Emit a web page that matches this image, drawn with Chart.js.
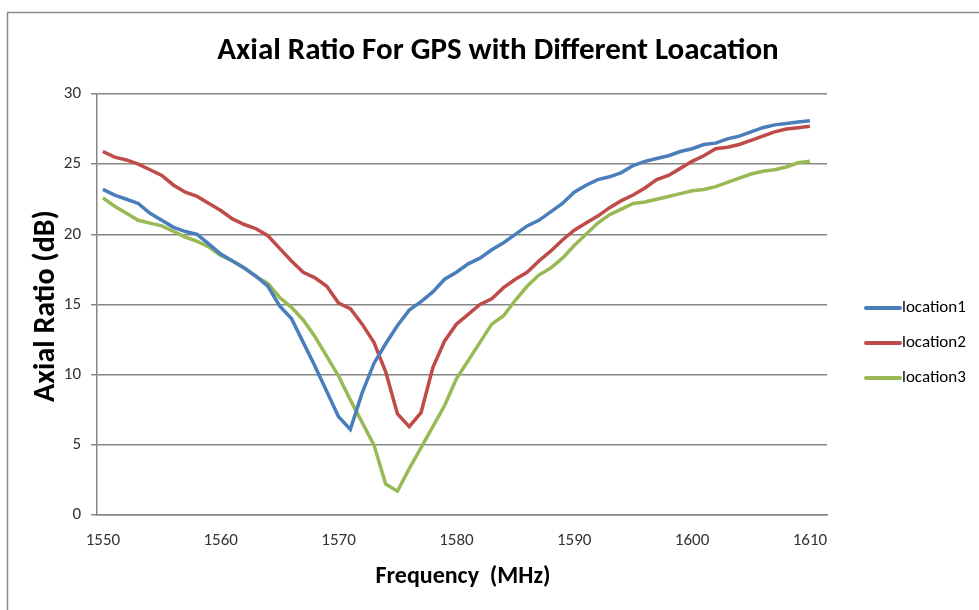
<!DOCTYPE html>
<html>
<head>
<meta charset="utf-8">
<title>Axial Ratio For GPS</title>
<script src="https://cdn.jsdelivr.net/npm/chart.js@4/dist/chart.umd.min.js"></script>
<style>
  html, body { margin: 0; padding: 0; background: #ffffff; }
  #wrap { width: 979px; height: 610px; }
</style>
</head>
<body>
<div id="wrap"><canvas id="arChart" width="979" height="610"></canvas></div>
<script>
// Data
const frequencies = [];
for (let f = 1550; f <= 1610; f++) frequencies.push(f);

const location1 = [23.2, 22.8, 22.5, 22.2, 21.5, 21.0, 20.5, 20.2, 20.0, 19.3,
    18.6, 18.1, 17.6, 17.0, 16.3, 14.9, 14.0, 12.3, 10.6, 8.8,
    7.0, 6.1, 8.7, 10.8, 12.2, 13.5, 14.6, 15.2, 15.9, 16.8,
    17.3, 17.9, 18.3, 18.9, 19.4, 20.0, 20.6, 21.0, 21.6, 22.2,
    23.0, 23.5, 23.9, 24.1, 24.4, 24.9, 25.2, 25.4, 25.6, 25.9,
    26.1, 26.4, 26.5, 26.8, 27.0, 27.3, 27.6, 27.8, 27.9, 28.0, 28.1];

const location2 = [25.9, 25.5, 25.3, 25.0, 24.6, 24.2, 23.5, 23.0, 22.7, 22.2,
    21.7, 21.1, 20.7, 20.4, 19.9, 19.0, 18.1, 17.3, 16.9, 16.3,
    15.1, 14.7, 13.6, 12.3, 10.2, 7.2, 6.3, 7.3, 10.5, 12.4,
    13.6, 14.3, 15.0, 15.4, 16.2, 16.8, 17.3, 18.1, 18.8, 19.6,
    20.3, 20.8, 21.3, 21.9, 22.4, 22.8, 23.3, 23.9, 24.2, 24.7,
    25.2, 25.6, 26.1, 26.2, 26.4, 26.7, 27.0, 27.3, 27.5, 27.6, 27.7];

const location3 = [22.6, 22.0, 21.5, 21.0, 20.8, 20.6, 20.2, 19.8, 19.5, 19.1,
    18.5, 18.1, 17.6, 17.0, 16.5, 15.5, 14.8, 13.9, 12.7, 11.3,
    9.9, 8.2, 6.6, 5.0, 2.2, 1.7, 3.3, 4.8, 6.3, 7.8,
    9.7, 11.0, 12.3, 13.6, 14.2, 15.3, 16.3, 17.1, 17.6, 18.3,
    19.2, 20.0, 20.8, 21.4, 21.8, 22.2, 22.3, 22.5, 22.7, 22.9,
    23.1, 23.2, 23.4, 23.7, 24.0, 24.3, 24.5, 24.6, 24.8, 25.1, 25.2];

const xTicks = [1550, 1560, 1570, 1580, 1590, 1600, 1610];
const yTicks = [0, 5, 10, 15, 20, 25, 30];

const seriesNames = ['location1', 'location2', 'location3'];
const seriesColors = ['#4a7ebb', '#be4b48', '#98b954'];

const chartTitle = 'Axial Ratio For GPS with Different Loacation';
const xTitle = 'Frequency  (MHz)';
const yTitle = 'Axial Ratio (dB)';

const labelFont = 'Carlito, "Liberation Sans Narrow", "Open Sans", sans-serif';

function toPoints(values) {
    return values.map((v, i) => ({ x: frequencies[i], y: v }));
}

// Title, axis titles, legend and outer frame drawn by hand
const decorPlugin = {
    id: 'decor',
    afterDraw(chart) {
        const ctx = chart.ctx;
        const area = chart.chartArea;
        ctx.save();

        // outer frame
        ctx.strokeStyle = '#8a8a8a';
        ctx.lineWidth = 1.5;
        ctx.strokeRect(7.5, 12.5, 990, 620);

        ctx.fillStyle = '#000000';
        ctx.textAlign = 'center';
        ctx.textBaseline = 'middle';

        ctx.font = 'bold 31px ' + labelFont;
        ctx.fillText(chartTitle, 498, 51);

        ctx.font = 'bold 24px ' + labelFont;
        ctx.fillText(xTitle, 463, 577);

        ctx.save();
        ctx.translate(46, 306);
        ctx.rotate(-Math.PI / 2);
        ctx.font = 'bold 30px ' + labelFont;
        ctx.fillText(yTitle, 0, 0);
        ctx.restore();

        // legend
        ctx.font = '17px ' + labelFont;
        ctx.textAlign = 'left';
        ctx.lineWidth = 4;
        ctx.lineCap = 'round';
        seriesNames.forEach((name, i) => {
            const y = 308 + i * 35;
            ctx.strokeStyle = seriesColors[i];
            ctx.beginPath();
            ctx.moveTo(866, y);
            ctx.lineTo(900, y);
            ctx.stroke();
            ctx.fillStyle = '#000000';
            ctx.fillText(name, 902, y);
        });

        ctx.restore();
    }
};

const ctx = document.getElementById('arChart').getContext('2d');

const arChart = new Chart(ctx, {
    type: 'line',
    data: {
        datasets: seriesNames.map((name, i) => ({
            label: name,
            data: toPoints([location1, location2, location3][i]),
            borderColor: seriesColors[i],
            backgroundColor: seriesColors[i],
            borderWidth: 3.5,
            pointRadius: 0,
            tension: 0,
            fill: false
        }))
    },
    options: {
        responsive: false,
        animation: false,
        layout: {
            padding: { left: 0, top: 94, right: 152, bottom: 0 }
        },
        plugins: {
            legend: { display: false },
            title: { display: false },
            tooltip: { enabled: false }
        },
        scales: {
            x: {
                type: 'linear',
                min: 1549.5,
                max: 1611.45,
                afterFit: s => { s.height = 95; },
                afterBuildTicks: s => { s.ticks = xTicks.map(v => ({ value: v })); },
                grid: { display: false, drawTicks: false },
                border: { display: true, color: '#868686', width: 1.5 },
                ticks: {
                    color: '#333333',
                    font: { family: labelFont, size: 17 },
                    padding: 16,
                    maxRotation: 0,
                    autoSkip: false,
                    callback: v => String(v)
                }
            },
            y: {
                min: 0,
                max: 30,
                afterFit: s => { s.width = 97; },
                afterBuildTicks: s => { s.ticks = yTicks.map(v => ({ value: v })); },
                grid: {
                    color: '#868686',
                    lineWidth: 1.5,
                    drawTicks: true,
                    tickLength: 6
                },
                border: { display: true, color: '#868686', width: 1.5 },
                ticks: {
                    color: '#333333',
                    font: { family: labelFont, size: 17 },
                    padding: 10,
                    callback: v => String(v)
                }
            }
        }
    },
    plugins: [decorPlugin]
});
</script>
</body>
</html>
